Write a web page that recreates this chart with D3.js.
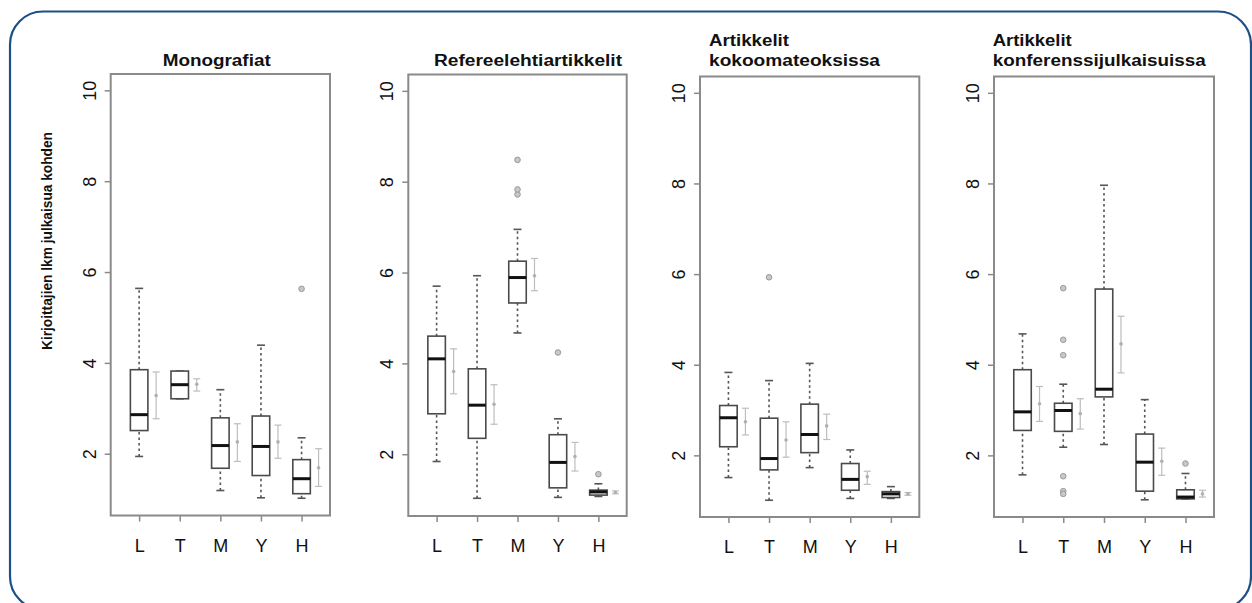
<!DOCTYPE html>
<html>
<head>
<meta charset="utf-8">
<script src="https://cdn.jsdelivr.net/npm/d3@7"></script>
<style>
  html, body { margin: 0; padding: 0; background: #fff; }
  svg { display: block; font-family: "Liberation Sans", Arial, Helvetica, sans-serif; }
</style>
</head>
<body>
<svg id="chart" width="1252" height="603"></svg>
<script>
// ---------- data ----------
const categories = ["L", "T", "M", "Y", "H"];
const yTicks = [2, 4, 6, 8, 10];
const yLabel = "Kirjoittajien lkm julkaisua kohden";
const panelTitles = [
  ["Monografiat"],
  ["Refereelehtiartikkelit"],
  ["Artikkelit", "kokoomateoksissa"],
  ["Artikkelit", "konferenssijulkaisuissa"]
];

// [whisker low, Q1, median, Q3, whisker high]
const monoStats = [[1.94, 2.51, 2.86, 3.85, 5.64], [3.21, 3.21, 3.52, 3.82, 3.82], [1.19, 1.68, 2.18, 2.79, 3.41], [1.03, 1.52, 2.16, 2.83, 4.39], [1.02, 1.12, 1.45, 1.87, 2.35]];
const monoCI = [[2.77, 3.28, 3.80], [3.38, 3.53, 3.65], [1.83, 2.26, 2.66], [1.90, 2.26, 2.63], [1.28, 1.69, 2.11]];
const monoOutliers = [[], [], [], [], [5.63]];

const refStats = [[1.84, 2.89, 4.10, 4.60, 5.70], [1.03, 2.35, 3.08, 3.88, 5.93], [4.67, 5.33, 5.89, 6.25, 6.95], [1.05, 1.26, 1.82, 2.43, 2.78], [1.07, 1.10, 1.17, 1.21, 1.35]];
const refCI = [[3.33, 3.82, 4.32], [2.66, 3.10, 3.53], [5.60, 5.93, 6.31], [1.63, 1.95, 2.26], [1.13, 1.16, 1.19]];
const refOutliers = [[], [], [7.72, 7.83, 8.48], [4.24], [1.56]];

const kokoStats = [[1.51, 2.19, 2.83, 3.10, 3.83], [1.01, 1.68, 1.93, 2.82, 3.65], [1.73, 2.06, 2.46, 3.13, 4.03], [1.05, 1.23, 1.47, 1.82, 2.12], [1.05, 1.07, 1.15, 1.20, 1.31]];
const kokoCI = [[2.45, 2.74, 3.04], [1.96, 2.34, 2.74], [2.35, 2.65, 2.91], [1.36, 1.53, 1.65], [1.12, 1.15, 1.18]];
const kokoOutliers = [[], [5.93], [], [], []];

const konfStats = [[1.57, 2.55, 2.96, 3.89, 4.68], [2.18, 2.53, 2.99, 3.15, 3.57], [2.24, 3.29, 3.46, 5.67, 7.96], [1.02, 1.21, 1.85, 2.47, 3.23], [1.04, 1.04, 1.08, 1.24, 1.60]];
const konfCI = [[2.75, 3.14, 3.52], [2.58, 2.92, 3.25], [3.82, 4.46, 5.07], [1.56, 1.87, 2.16], [1.08, 1.15, 1.23]];
const konfOutliers = [[], [5.69, 4.55, 4.21, 1.54, 1.21, 1.15], [], [], [1.82]];

// ---------- layout ----------
const panels = [
  { stats: monoStats, ci: monoCI, out: monoOutliers, x0: 110.7, x1: 330, y0: 74, y1: 515.5, tx: 162.7, tw: [108], ty: [66] },
  { stats: refStats, ci: refCI, out: refOutliers, x0: 408.3, x1: 626.7, y0: 74.5, y1: 516, tx: 434, tw: [188], ty: [66] },
  { stats: kokoStats, ci: kokoCI, out: kokoOutliers, x0: 700, x1: 919.3, y0: 76.5, y1: 517, tx: 709, tw: [80, 171], ty: [46, 66] },
  { stats: konfStats, ci: konfCI, out: konfOutliers, x0: 994, x1: 1214, y0: 76.5, y1: 517, tx: 992.7, tw: [79, 213], ty: [46, 66] }
];

const svg = d3.select("#chart");

// rounded blue frame
svg.append("rect")
  .attr("x", 10).attr("y", 11.5)
  .attr("width", 1241).attr("height", 598)
  .attr("rx", 33).attr("ry", 33)
  .attr("fill", "none").attr("stroke", "#1d5185").attr("stroke-width", 2.2);

// y axis label
svg.append("text")
  .attr("transform", "translate(52,241) rotate(-90)")
  .attr("text-anchor", "middle")
  .attr("font-size", 14).attr("font-weight", "bold").attr("fill", "#111")
  .attr("textLength", 218).attr("lengthAdjust", "spacingAndGlyphs")
  .text(yLabel);

const boxW = 17.5, capW = 8, ciOff = 17, ciCap = 7;

panels.forEach((p, pi) => {
  const x = d3.scaleLinear().domain([0.3, 5.7]).range([p.x0, p.x1]);
  const y = d3.scaleLinear().domain([0.64, 10.36]).range([p.y1, p.y0]);
  const g = svg.append("g");

  // title
  panelTitles[pi].forEach((t, li) => {
    g.append("text")
      .attr("x", p.tx).attr("y", p.ty[li])
      .attr("font-size", 16).attr("font-weight", "bold").attr("fill", "#111")
      .attr("textLength", p.tw[li]).attr("lengthAdjust", "spacingAndGlyphs")
      .text(t);
  });

  // frame
  g.append("rect")
    .attr("x", p.x0).attr("y", p.y0)
    .attr("width", p.x1 - p.x0).attr("height", p.y1 - p.y0)
    .attr("fill", "none").attr("stroke", "#8a8a8a").attr("stroke-width", 2);

  // y axis
  const ya = g.append("g").attr("transform", `translate(${p.x0},0)`)
    .call(d3.axisLeft(y).tickValues(yTicks).tickSize(6).tickFormat(d3.format("d")));
  ya.select(".domain").remove();
  ya.selectAll(".tick line").attr("stroke", "#8a8a8a").attr("stroke-width", 1.5);
  ya.selectAll(".tick text")
    .attr("transform", "rotate(-90)")
    .attr("x", 0).attr("y", -15).attr("dy", 0)
    .attr("text-anchor", "middle")
    .attr("font-size", 18).attr("fill", "#111")
    .attr("font-family", "Liberation Sans, Arial, sans-serif");

  // x axis
  const xa = g.append("g").attr("transform", `translate(0,${p.y1})`)
    .call(d3.axisBottom(x).tickValues([1, 2, 3, 4, 5]).tickSize(6).tickFormat(d => categories[d - 1]));
  xa.select(".domain").remove();
  xa.selectAll(".tick line").attr("stroke", "#8a8a8a").attr("stroke-width", 1.5);
  xa.selectAll(".tick text")
    .attr("y", 36).attr("dy", 0)
    .attr("font-size", 18).attr("fill", "#111")
    .attr("font-family", "Liberation Sans, Arial, sans-serif");

  // boxes
  p.stats.forEach((s, i) => {
    const cx = x(i + 1);
    const [lo, q1, med, q3, hi] = s;
    const bg = g.append("g");
    // whiskers
    [[lo, q1], [q3, hi]].forEach(([a, b]) => {
      if (Math.abs(b - a) > 0.001) {
        bg.append("line").attr("x1", cx).attr("x2", cx).attr("y1", y(a)).attr("y2", y(b))
          .attr("stroke", "#555").attr("stroke-width", 1.6).attr("stroke-dasharray", "2.5,3");
      }
    });
    // staples
    [lo, hi].forEach(v => {
      bg.append("line").attr("x1", cx - capW / 2).attr("x2", cx + capW / 2).attr("y1", y(v)).attr("y2", y(v))
        .attr("stroke", "#555").attr("stroke-width", 1.6);
    });
    // box
    bg.append("rect").attr("x", cx - boxW / 2).attr("y", y(q3))
      .attr("width", boxW).attr("height", Math.max(0.5, y(q1) - y(q3)))
      .attr("fill", "#fff").attr("stroke", "#4a4a4a").attr("stroke-width", 1.6);
    // median
    bg.append("line").attr("x1", cx - boxW / 2).attr("x2", cx + boxW / 2).attr("y1", y(med)).attr("y2", y(med))
      .attr("stroke", "#111").attr("stroke-width", 3);
    // outliers
    p.out[i].forEach(v => {
      bg.append("circle").attr("cx", cx).attr("cy", y(v)).attr("r", 2.8)
        .attr("fill", "#c8c8c8").attr("stroke", "#999").attr("stroke-width", 1);
    });
    // CI bar
    const [clo, cm, chi] = p.ci[i];
    const ex = cx + ciOff;
    bg.append("line").attr("x1", ex).attr("x2", ex).attr("y1", y(clo)).attr("y2", y(chi))
      .attr("stroke", "#bdbdbd").attr("stroke-width", 1.2);
    [clo, chi].forEach(v => {
      bg.append("line").attr("x1", ex - ciCap / 2).attr("x2", ex + ciCap / 2).attr("y1", y(v)).attr("y2", y(v))
        .attr("stroke", "#bdbdbd").attr("stroke-width", 1.2);
    });
    bg.append("circle").attr("cx", ex).attr("cy", y(cm)).attr("r", 1.8)
      .attr("fill", "#b0b0b0");
  });
});
</script>
</body>
</html>
